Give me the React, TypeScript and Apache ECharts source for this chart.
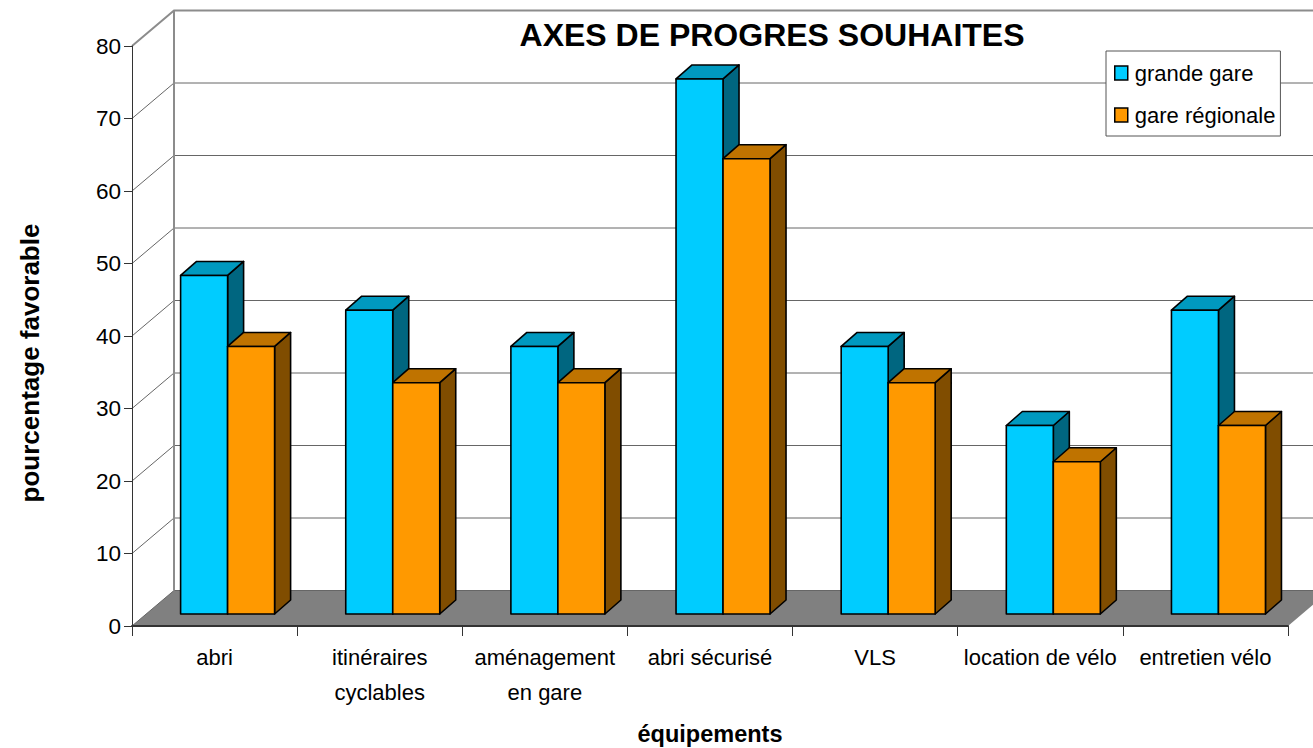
import React, { useEffect, useRef } from "react";
import * as echarts from "echarts";

const categories = ["abri", "itinéraires\ncyclables", "aménagement\nen gare", "abri sécurisé", "VLS", "location de vélo", "entretien vélo"];
const grandeGare = [46.7, 41.9, 36.9, 73.8, 36.9, 26, 41.9];
const gareRegionale = [36.9, 31.9, 31.9, 62.8, 31.9, 21, 26];
const yTicks = [0, 10, 20, 30, 40, 50, 60, 70, 80];
const title = "AXES DE PROGRES SOUHAITES";
const FONT = "'Liberation Sans', Arial, sans-serif";

const WALL_DX = 42;
const WALL_DY = 35.5;
const BAR_W = 47;
const BAR_DX = 16;
const BAR_DY = 14;
const BAR_LIFT = 12;
const BAR_START = 48.6;

function barRenderer(slot: number, front: string, top: string, side: string) {
  return (params: any, api: any) => {
    const cs = params.coordSys;
    const band = cs.width / categories.length;
    const base = api.coord([api.value(0), 0]);
    const head = api.coord([api.value(0), api.value(1)]);
    const x0 = cs.x + band * api.value(0) + BAR_START + slot * BAR_W;
    const x1 = x0 + BAR_W;
    const yb = base[1] - BAR_LIFT;
    const yt = head[1] - BAR_LIFT;
    const stroke = { stroke: "#000", lineWidth: 1.6, lineJoin: "round" };
    return {
      type: "group",
      children: [
        { type: "polygon", shape: { points: [[x1, yt], [x1 + BAR_DX, yt - BAR_DY], [x1 + BAR_DX, yb - BAR_DY], [x1, yb]] }, style: { fill: side, ...stroke } },
        { type: "polygon", shape: { points: [[x0, yt], [x0 + BAR_DX, yt - BAR_DY], [x1 + BAR_DX, yt - BAR_DY], [x1, yt]] }, style: { fill: top, ...stroke } },
        { type: "rect", shape: { x: x0, y: yt, width: BAR_W, height: yb - yt }, style: { fill: front, ...stroke } },
      ],
    };
  };
}

function wallRenderer(params: any, api: any) {
  const cs = params.coordSys;
  const v = api.value(0);
  const y = api.coord([0, v])[1];
  const isTop = v === yTicks[yTicks.length - 1];
  const color = isTop ? "#8c8c8c" : "#666";
  const lw = isTop ? 2 : 1;
  const children: any[] = [
    { type: "polyline", shape: { points: [[cs.x, y], [cs.x + WALL_DX, y - WALL_DY], [cs.x + cs.width + WALL_DX, y - WALL_DY]] }, style: { stroke: color, lineWidth: lw, fill: "none" } },
  ];
  if (v === 0) {
    children.unshift({ type: "polygon", shape: { points: [[cs.x, y], [cs.x + WALL_DX, y - WALL_DY], [cs.x + cs.width + WALL_DX, y - WALL_DY], [cs.x + cs.width, y]] }, style: { fill: "#808080" } });
  }
  if (isTop) {
    const y0 = api.coord([0, 0])[1];
    children.push({ type: "line", shape: { x1: cs.x + WALL_DX, y1: y - WALL_DY, x2: cs.x + WALL_DX, y2: y0 - WALL_DY }, style: { stroke: "#8c8c8c", lineWidth: 2 } });
  }
  return { type: "group", children };
}

export default function App() {
  const ref = useRef<HTMLDivElement>(null);
  useEffect(() => {
    const chart = echarts.init(ref.current!, null, { renderer: "svg" });
    const toData = (vals: number[]) => vals.map((v, i) => [i, v]);
    chart.setOption({
      animation: false,
      backgroundColor: "#fff",
      title: {
        text: title,
        left: 772,
        top: 19,
        textAlign: "center",
        padding: 0,
        textStyle: { fontFamily: FONT, fontSize: 32, fontWeight: "bold", color: "#000" },
      },
      legend: {
        orient: "vertical",
        left: 1106,
        top: 51,
        padding: [11, 5, 10, 8],
        itemGap: 20,
        itemWidth: 13,
        itemHeight: 14,
        itemStyle: { borderColor: "#000", borderWidth: 1.5 },
        backgroundColor: "#fff",
        borderColor: "#555",
        borderWidth: 1,
        icon: "rect",
        textStyle: { fontFamily: FONT, fontSize: 22, color: "#000", padding: [0, 0, 0, 2] },
        data: ["grande gare", "gare régionale"],
      },
      grid: { left: 132, top: 46, width: 1156, height: 580, containLabel: false, outerBoundsMode: "none" },
      xAxis: {
        type: "category",
        data: categories,
        z: 5,
        name: "équipements",
        nameLocation: "middle",
        nameGap: 96,
        nameTextStyle: { fontFamily: FONT, fontSize: 23.5, fontWeight: "bold", color: "#000" },
        axisLine: { lineStyle: { color: "#333", width: 2 } },
        axisTick: { show: true, length: 10, alignWithLabel: false, lineStyle: { color: "#333" } },
        axisLabel: { interval: 0, margin: 14, fontFamily: FONT, fontSize: 22, lineHeight: 35, color: "#000", verticalAlign: "top" },
        splitLine: { show: false },
      },
      yAxis: {
        type: "value",
        min: 0,
        max: 80,
        interval: 10,
        z: 5,
        name: "pourcentage favorable",
        nameLocation: "middle",
        nameRotate: 90,
        nameGap: 89,
        nameTextStyle: { fontFamily: FONT, fontSize: 26, fontWeight: "bold", color: "#000", padding: [0, 54, 0, 0] },
        axisLine: { show: true, lineStyle: { color: "#333", width: 1 } },
        axisTick: { show: true, length: 8, lineStyle: { color: "#333" } },
        axisLabel: { margin: 11, fontFamily: FONT, fontSize: 22.5, color: "#000" },
        splitLine: { show: false },
      },
      series: [
        {
          type: "custom",
          name: "wall",
          z: 1,
          silent: true,
          clip: false,
          data: yTicks.map((v) => [v]),
          encode: { y: 0 },
          renderItem: wallRenderer,
        },
        {
          type: "custom",
          name: "grande gare",
          z: 3,
          silent: true,
          clip: false,
          itemStyle: { color: "#00CCFF" },
          data: toData(grandeGare),
          encode: { x: 0, y: 1 },
          renderItem: barRenderer(0, "#00CCFF", "#0099BF", "#006680"),
        },
        {
          type: "custom",
          name: "gare régionale",
          z: 4,
          silent: true,
          clip: false,
          itemStyle: { color: "#FF9900" },
          data: toData(gareRegionale),
          encode: { x: 0, y: 1 },
          renderItem: barRenderer(1, "#FF9900", "#BF7300", "#804D00"),
        },
      ],
    });
    return () => chart.dispose();
  }, []);
  return <div ref={ref} style={{ position: "fixed", left: 0, top: 0, width: 1313, height: 748 }} />;
}
